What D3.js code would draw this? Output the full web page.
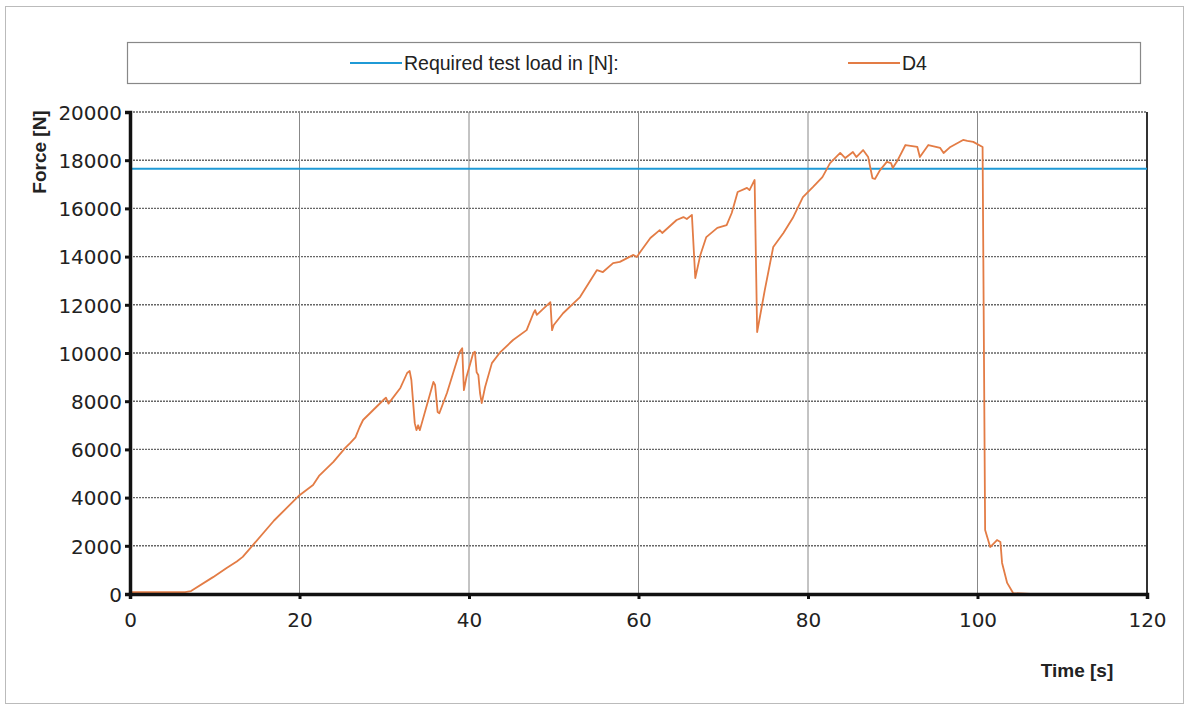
<!DOCTYPE html>
<html>
<head>
<meta charset="utf-8">
<script src="https://cdn.jsdelivr.net/npm/d3@7"></script>
<style>
  body { margin:0; background:#fff; }
</style>
</head>
<body>
<div id="chart"></div>
<script>
// time [s] and force [N]
var timeS = [0, 3, 6.5, 7.2, 9.8, 11.4, 12.6, 13.3, 14.5, 17, 20, 21.6, 22.3, 24, 25.4, 26, 26.6, 27.1, 27.5, 29.9, 30.2, 30.5,
  31.9, 32.7, 33, 33.2, 33.6, 33.8, 34, 34.2, 35.8, 36, 36.3, 36.5, 37.4, 38.9, 39.2, 39.3, 39.4, 39.7,
  40.5, 40.7, 40.9, 41.1, 41.3, 41.5, 41.9, 42.7, 43.7, 45.2, 46.8, 47.6, 47.8, 48, 49.6, 49.8, 50,
  51.1, 53.1, 55.1, 55.8, 57, 57.8, 59.4, 59.8, 60.2, 61.4, 62.5, 62.8, 64.5, 65.3, 65.7, 66.3, 66.7,
  67.3, 68, 69.3, 70.4, 71, 71.7, 72.8, 73.1, 73.7, 74, 74.9, 75.9, 77.1, 78.2, 79.4, 80.6, 81.7, 82.6,
  83.8, 84.4, 85.3, 85.7, 86.5, 87.1, 87.6, 87.9, 88.5, 89.3, 89.8, 90, 90.6, 91.5, 92.9, 93.2, 94.2,
  95.6, 96, 96.8, 98.3, 98.8, 99.5, 100.6, 100.9, 101.5, 102.3, 102.7, 102.9, 103.5, 104.2, 106.2];
var forceN = [80, 80, 80, 120, 700, 1080, 1350, 1540, 2030, 3050, 4100, 4520, 4900, 5480, 6060, 6270, 6500, 6930, 7220, 8050, 8150, 7900,
  8550, 9170, 9250, 8880, 7090, 6800, 7000, 6800, 8800, 8670, 7550, 7500, 8340, 10040, 10200, 9300, 8460, 9000,
  10000, 10050, 9200, 9090, 8340, 7920, 8590, 9580, 10040, 10540, 10950, 11650, 11780, 11580, 12110, 10950, 11160,
  11650, 12320, 13440, 13360, 13730, 13780, 14070, 13980, 14190, 14770, 15100, 14980, 15520, 15640, 15560, 15730, 13110,
  14070, 14810, 15190, 15310, 15810, 16680, 16850, 16760, 17180, 10870, 12610, 14400, 14980, 15600, 16470, 16890, 17300, 17880,
  18300, 18090, 18340, 18130, 18420, 18130, 17260, 17220, 17590, 17930, 17880, 17680, 18010, 18630, 18550, 18130, 18630,
  18510, 18300, 18550, 18840, 18800, 18760, 18550, 2660, 1950, 2240, 2160, 1290, 460, 40, 0];
var requiredLoad = 17650;
var xTicks = [0, 20, 40, 60, 80, 100, 120];
var yTicks = [0, 2000, 4000, 6000, 8000, 10000, 12000, 14000, 16000, 18000, 20000];
var legendNames = ["Required test load in [N]:", "D4"];

var W = 1186, H = 707;
var margin = {top:112, right:39, bottom:113, left:130};
var width = W - margin.left - margin.right;
var height = H - margin.top - margin.bottom;

var svg = d3.select("#chart").append("svg")
  .attr("width", W).attr("height", H);

// outer frame
svg.append("rect")
  .attr("x", 5.5).attr("y", 6.5).attr("width", W - 8).attr("height", H - 10)
  .attr("fill", "none").attr("stroke", "#bbb").attr("stroke-width", 1);

var x = d3.scaleLinear().domain([0, 120]).range([0, width]);
var y = d3.scaleLinear().domain([0, 20000]).range([height, 0]);

var g = svg.append("g")
  .attr("transform", "translate(" + [margin.left, margin.top] + ")");

// horizontal dotted gridlines
g.selectAll(".hgrid").data(yTicks.slice(1))
  .enter().append("line")
    .attr("class", "hgrid")
    .attr("x1", 0).attr("x2", width)
    .attr("y1", function(d){ return y(d); }).attr("y2", function(d){ return y(d); })
    .attr("stroke", "#666").attr("stroke-width", 1.4).attr("stroke-dasharray", "2,1");

// vertical gridlines
g.selectAll(".vgrid").data(xTicks.slice(1))
  .enter().append("line")
    .attr("class", "vgrid")
    .attr("x1", function(d){ return x(d); }).attr("x2", function(d){ return x(d); })
    .attr("y1", 0).attr("y2", height)
    .attr("stroke", function(d){ return d == 120 ? "#333" : "#888"; })
    .attr("stroke-width", function(d){ return d == 120 ? 2 : 1; });

// required test load
g.append("line")
  .attr("x1", x(0)).attr("x2", x(120))
  .attr("y1", y(requiredLoad)).attr("y2", y(requiredLoad))
  .attr("stroke", "#1f9ad6").attr("stroke-width", 2);

// force curve
var line = d3.line()
  .x(function(d){ return x(d[0]); })
  .y(function(d){ return y(d[1]); });

g.append("path")
  .datum(d3.zip(timeS, forceN))
  .attr("d", line)
  .attr("fill", "none")
  .attr("stroke", "#e37c45")
  .attr("stroke-width", 1.8)
  .attr("stroke-linejoin", "round");

// axes
var xAxis = d3.axisBottom(x).tickValues(xTicks).tickSize(5).tickPadding(14)
  .tickFormat(d3.format("d"));
var yAxis = d3.axisLeft(y).tickValues(yTicks).tickSize(5).tickPadding(3)
  .tickFormat(d3.format("d"));

var gx = g.append("g").attr("transform", "translate(0," + height + ")").call(xAxis);
var gy = g.append("g").call(yAxis);

[gx, gy].forEach(function(a){
  a.select(".domain").attr("stroke", "#111").attr("stroke-width", 3.5);
  a.selectAll(".tick line").attr("stroke", "#111").attr("stroke-width", 3);
  a.selectAll("text")
    .attr("font-family", "DejaVu Sans, Verdana, sans-serif")
    .attr("font-size", "20px")
    .attr("fill", "#222");
});
gy.selectAll("text").attr("dy", "0.36em");

// axis titles
svg.append("text")
  .attr("transform", "translate(46,152)rotate(-90)")
  .attr("text-anchor", "middle")
  .attr("font-family", "Liberation Sans, Arial, sans-serif")
  .attr("font-weight", "bold")
  .attr("font-size", "19px")
  .attr("fill", "#222")
  .text("Force [N]");

svg.append("text")
  .attr("x", 1077).attr("y", 677)
  .attr("text-anchor", "middle")
  .attr("font-family", "Liberation Sans, Arial, sans-serif")
  .attr("font-weight", "bold")
  .attr("font-size", "19px")
  .attr("fill", "#222")
  .text("Time [s]");

// legend
var legend = svg.append("g");
legend.append("rect")
  .attr("x", 127.5).attr("y", 42.5).attr("width", 1013).attr("height", 41)
  .attr("fill", "#fff").attr("stroke", "#888").attr("stroke-width", 1.2);

var legendX = [350, 848];
var legendColors = ["#1f9ad6", "#e37c45"];
legendNames.forEach(function(name, i){
  legend.append("line")
    .attr("x1", legendX[i]).attr("x2", legendX[i] + 52)
    .attr("y1", 63).attr("y2", 63)
    .attr("stroke", legendColors[i]).attr("stroke-width", 2);
  legend.append("text")
    .attr("x", legendX[i] + 54).attr("y", 70)
    .attr("font-family", "Liberation Sans, Arial, sans-serif")
    .attr("font-size", "19.5px")
    .attr("fill", "#222")
    .text(name);
});
</script>
</body>
</html>
